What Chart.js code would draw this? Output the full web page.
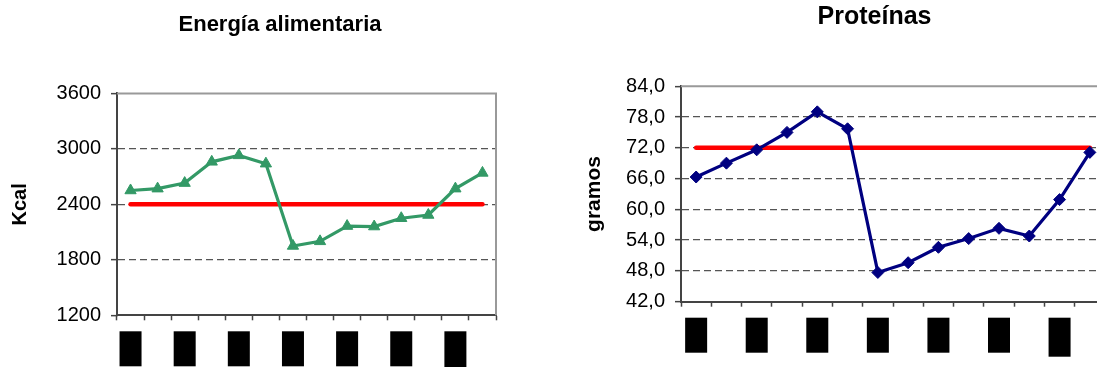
<!DOCTYPE html>
<html>
<head>
<meta charset="utf-8">
<script src="https://cdn.jsdelivr.net/npm/chart.js@4"></script>
<style>
  html, body { margin: 0; padding: 0; background: #fff; overflow: hidden; width: 1097px; height: 367px; }
  canvas { position: absolute; top: 0; }
  #energia { left: 0; }
  #proteinas { left: 560px; }
</style>
</head>
<body>
<canvas id="energia" width="540" height="367"></canvas>
<canvas id="proteinas" width="560" height="367"></canvas>
<script>
// categories (their labels are blacked out in the picture)
const categories = ["1", "2", "3", "4", "5", "6", "7", "8", "9", "10", "11", "12", "13", "14"];

// Energía alimentaria (Kcal)
const kcal = [2550, 2570, 2630, 2860, 2930, 2840, 1950, 2000, 2165, 2160, 2250, 2285, 2570, 2740];
const kcalRef = [2400, 2400, 2400, 2400, 2400, 2400, 2400, 2400, 2400, 2400, 2400, 2400, 2400, 2400];
const kcalTicks = { min: 1200, max: 3600, step: 600 };

// Proteínas (gramos)
const prot = [66.3, 69.0, 71.6, 75.0, 79.0, 75.7, 47.7, 49.6, 52.6, 54.3, 56.3, 54.8, 61.9, 71.1];
const protRef = [72, 72, 72, 72, 72, 72, 72, 72, 72, 72, 72, 72, 72, 72];
const protTicks = { min: 42, max: 84, step: 6 };

const FONT = "'Liberation Sans', Arial, sans-serif";

// gray frame on top and right of the plot
const frame = {
    id: "frame",
    beforeDatasetsDraw(chart) {
        const { ctx, chartArea: a } = chart;
        ctx.save();
        ctx.strokeStyle = "#999";
        ctx.lineWidth = 2;
        ctx.beginPath();
        ctx.moveTo(a.left, a.top);
        ctx.lineTo(a.right, a.top);
        ctx.lineTo(a.right, a.bottom);
        ctx.stroke();
        ctx.restore();
    }
};

// the title is not centred over the plot in the original, move its box
const titleCenter = {
    id: "titleCenter",
    afterLayout(chart, args, opts) {
        const t = chart.titleBlock;
        if (!t) return;
        const half = (t.right - t.left) / 2;
        t.left = opts.x - half;
        t.right = opts.x + half;
    }
};

// black boxes where the category labels were hidden
const blackLabels = {
    id: "blackLabels",
    afterDraw(chart, args, opts) {
        const ctx = chart.ctx;
        const xs = chart.scales.x;
        ctx.save();
        ctx.fillStyle = "#000";
        for (let i = 0; i < categories.length; i += 2) {
            const cx = xs.getPixelForValue(i);
            const h = i === 12 ? opts.h + opts.extra : opts.h;
            ctx.fillRect(cx - 11, xs.top + opts.gap, 22, h);
        }
        ctx.restore();
    }
};

function makeChart(id, cfg) {
    return new Chart(document.getElementById(id), {
        type: "line",
        data: {
            labels: categories,
            datasets: [{
                data: cfg.values,
                borderColor: cfg.color,
                backgroundColor: cfg.color,
                borderWidth: 3.2,
                pointStyle: cfg.marker,
                pointRadius: cfg.markerSize,
                pointBorderWidth: 1,
                tension: 0
            }, {
                data: cfg.ref,
                borderColor: "#ff0000",
                borderWidth: 4.5,
                borderCapStyle: "round",
                pointRadius: 0,
                tension: 0
            }]
        },
        options: {
            responsive: false,
            animation: false,
            devicePixelRatio: 1,
            layout: { padding: cfg.padding },
            plugins: {
                legend: { display: false },
                tooltip: { enabled: false },
                title: {
                    display: true,
                    text: cfg.title,
                    color: "#000",
                    font: { family: FONT, size: cfg.titleSize, weight: "bold" },
                    padding: cfg.titlePad
                },
                titleCenter: { x: cfg.titleX },
                blackLabels: cfg.boxes
            },
            scales: {
                x: {
                    offset: true,
                    ticks: { display: false },
                    grid: { offset: true, drawOnChartArea: false, drawTicks: true, tickLength: 5, tickColor: "#444", tickWidth: 1.5 },
                    border: { color: "#444", width: 2 },
                    afterFit: s => { s.height = cfg.xHeight; }
                },
                y: {
                    min: cfg.ticks.min,
                    max: cfg.ticks.max,
                    ticks: {
                        stepSize: cfg.ticks.step,
                        color: "#000",
                        padding: 10,
                        font: { family: FONT, size: 20 },
                        callback: cfg.fmt
                    },
                    grid: {
                        color: c => (c.tick && (c.tick.value === cfg.ticks.min || c.tick.value === cfg.ticks.max)) ? "rgba(0,0,0,0)" : "#555",
                        lineWidth: 1.3,
                        tickColor: "#444",
                        tickLength: 6,
                        tickWidth: 1.5
                    },
                    border: { color: "#444", width: 2, dash: [7, 4] },
                    title: {
                        display: true,
                        text: cfg.yTitle,
                        color: "#000",
                        font: { family: FONT, size: cfg.yTitleSize, weight: "bold" },
                        padding: { top: cfg.yTitleOffset, bottom: 0 }
                    },
                    afterFit: s => { s.width = cfg.yWidth; }
                }
            }
        },
        plugins: [frame, titleCenter, blackLabels]
    });
}

makeChart("energia", {
    values: kcal, ref: kcalRef, ticks: kcalTicks,
    color: "#339966", marker: "triangle", markerSize: 6.5,
    title: "Energía alimentaria", titleSize: 22, titlePad: { top: 12, bottom: 55 }, titleX: 280,
    yTitle: "Kcal", yTitleSize: 20, yTitleOffset: 8,
    padding: { left: 0, right: 44, top: 0, bottom: 0 },
    yWidth: 117, xHeight: 51.7,
    fmt: v => String(v),
    boxes: { gap: 16, h: 35, extra: 1.5 }
});

makeChart("proteinas", {
    values: prot, ref: protRef, ticks: protTicks,
    color: "#000080", marker: "rectRot", markerSize: 6,
    title: "Proteínas", titleSize: 25, titlePad: { top: 2.5, bottom: 53.7 }, titleX: 314.5,
    yTitle: "gramos", yTitleSize: 21, yTitleOffset: 22,
    padding: { left: 0, right: 15, top: 0, bottom: 0 },
    yWidth: 121, xHeight: 65.3,
    fmt: v => v.toFixed(1).replace(".", ","),
    boxes: { gap: 16, h: 35, extra: 4 }
});
</script>
</body>
</html>
